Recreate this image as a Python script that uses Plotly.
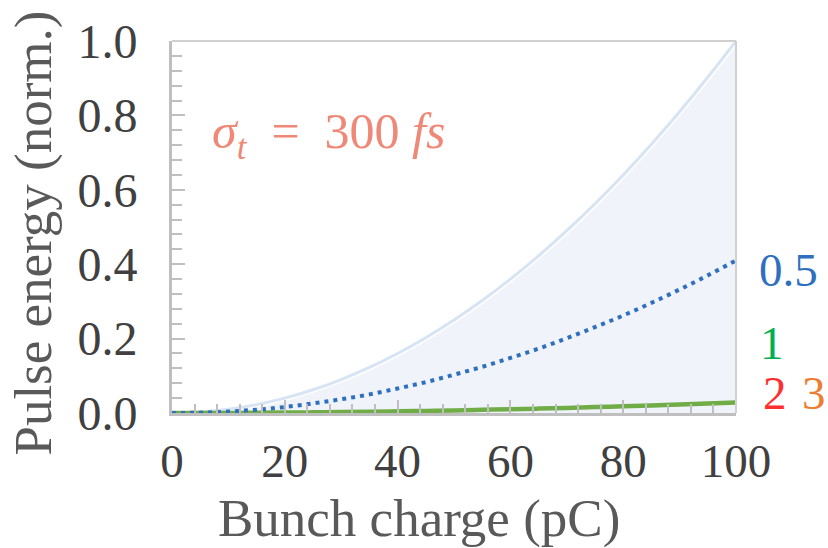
import plotly.graph_objects as go

# Data
charge = [0, 5, 10, 15, 20, 25, 30, 35, 40, 45, 50, 55, 60, 65, 70, 75, 80, 85, 90, 95, 100]
upper = [0, 0.0025, 0.01, 0.0225, 0.04, 0.0625, 0.09, 0.1225, 0.16, 0.2025, 0.25,
         0.3025, 0.36, 0.4225, 0.49, 0.5625, 0.64, 0.7225, 0.81, 0.9025, 1.0]
k05 = [0, 0.001, 0.004, 0.009, 0.016, 0.026, 0.037, 0.050, 0.066, 0.083, 0.103,
       0.124, 0.148, 0.173, 0.201, 0.231, 0.262, 0.296, 0.332, 0.370, 0.41]
k1 = [0, 0.0001, 0.0003, 0.0006, 0.0011, 0.0018, 0.0025, 0.0034, 0.0045, 0.0057, 0.007,
      0.0085, 0.010, 0.0118, 0.0137, 0.0158, 0.018, 0.0202, 0.0227, 0.0253, 0.028]

ytick_vals = [0, 0.2, 0.4, 0.6, 0.8, 1.0]
xtick_vals = [0, 20, 40, 60, 80, 100]

AX = "#bfbfbf"
FONT = "Liberation Serif"

fig = go.Figure()
fig.add_trace(go.Scatter(x=charge, y=upper, mode="lines", fill="tozeroy",
                         fillcolor="#f0f4fa", line=dict(color="white", width=6, shape="spline"),
                         hoverinfo="skip"))
fig.add_trace(go.Scatter(x=charge, y=upper, mode="lines",
                         line=dict(color="#d6e4f3", width=3, shape="spline")))
fig.add_trace(go.Scatter(x=charge, y=k1, mode="lines",
                         line=dict(color="#70ad47", width=4.5, shape="spline")))
fig.add_trace(go.Scatter(x=charge, y=k05, mode="lines",
                         line=dict(color="#2e6fbf", width=4, dash="4px,5px", shape="spline")))

fig.update_layout(
    width=828, height=548,
    margin=dict(l=172, r=92, t=41, b=135),
    paper_bgcolor="white", plot_bgcolor="white",
    showlegend=False,
    xaxis=dict(range=[0, 100], tickvals=xtick_vals, ticks="inside", ticklen=13,
               tickwidth=2, tickcolor=AX, showgrid=False, zeroline=False,
               showline=True, linecolor=AX, linewidth=3,
               minor=dict(dtick=4, ticks="inside", ticklen=9, tickwidth=2, tickcolor=AX),
               tickfont=dict(family=FONT, size=47, color="#404040"),
               ticklabelstandoff=5),
    yaxis=dict(range=[0, 1], tickvals=ytick_vals, tickformat=".1f", ticks="inside",
               ticklen=13, tickwidth=2, tickcolor=AX, showgrid=False, zeroline=False,
               showline=True, linecolor=AX, linewidth=3,
               minor=dict(dtick=0.04, ticks="inside", ticklen=10, tickwidth=2, tickcolor=AX),
               tickfont=dict(family=FONT, size=48, color="#404040"),
               ticklabelstandoff=22),
)

# axis titles
fig.add_annotation(x=0.438, y=-0.284, xref="paper", yref="paper", xanchor="center",
                   yanchor="middle", text="Bunch charge (pC)", showarrow=False,
                   font=dict(family=FONT, size=53, color="#595959"))
fig.add_annotation(x=-0.246, y=0.483, xref="paper", yref="paper", xanchor="center",
                   yanchor="middle", text="Pulse energy (norm.)", showarrow=False,
                   textangle=-90, font=dict(family=FONT, size=53, color="#595959"))

# top and right frame
fig.add_shape(type="line", xref="paper", yref="paper", x0=0, x1=1, y0=1, y1=1,
              line=dict(color="#d0d0d0", width=2))
fig.add_shape(type="line", xref="paper", yref="paper", x0=1, x1=1, y0=0, y1=1,
              line=dict(color="#d0d0d0", width=2))

fig.add_annotation(x=6.7, y=0.747, xref="x", yref="y", xanchor="left", yanchor="middle",
                   text="<i>σ</i><sub><i>t</i></sub>&nbsp;&nbsp;=&nbsp;&nbsp;300&nbsp;<i>fs</i>",
                   showarrow=False,
                   font=dict(family=FONT, size=50, color="#f08878"))
labels = [("0.5", 1.037, 0.384, "#2e6fbf", "left"),
          ("1", 1.064, 0.188, "#00b050", "center"),
          ("2", 1.069, 0.054, "#ff2f2f", "center"),
          ("3", 1.138, 0.054, "#ed7d31", "center")]
for t, px, py, c, anc in labels:
    fig.add_annotation(x=px, y=py, xref="paper", yref="y", xanchor=anc, yanchor="middle",
                       text=t, showarrow=False, font=dict(family=FONT, size=47, color=c))

fig.write_html("out.html")
